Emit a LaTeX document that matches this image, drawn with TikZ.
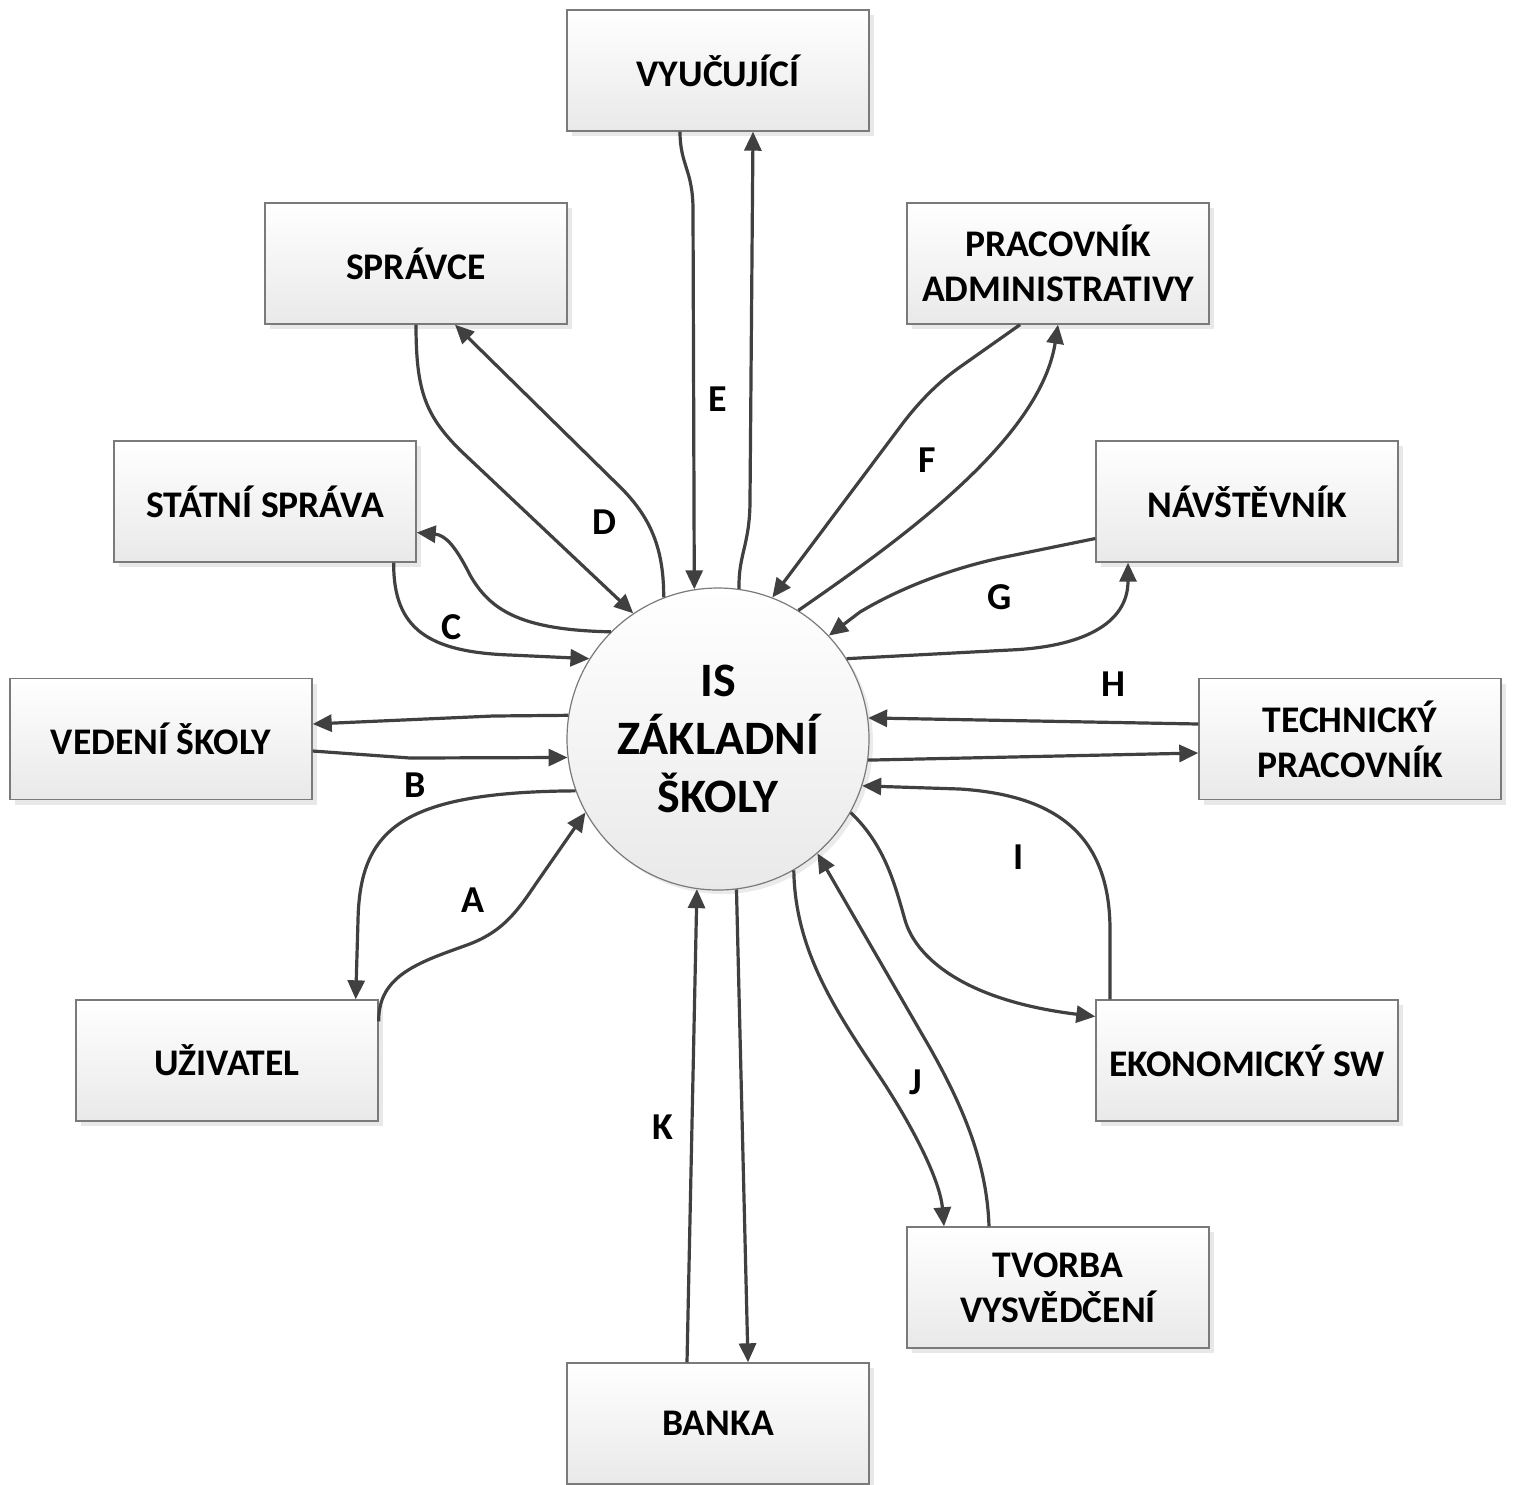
\documentclass[tikz,border=0pt]{standalone}
\usepackage{fontspec}
\setmainfont{Carlito}
\usetikzlibrary{arrows.meta,shadows}
\definecolor{wire}{HTML}{404040}
\definecolor{rim}{HTML}{7A7A7A}
\definecolor{lowfill}{HTML}{E9E9E9}
\begin{document}
\begin{tikzpicture}[x=0.5pt,y=-0.5pt,
  entity/.style={rectangle, draw=rim, line width=0.7pt, top color=white, bottom color=lowfill,
    minimum width=151pt, minimum height=60.5pt, inner sep=1pt, align=center,
    font=\fontsize{18.8}{22.5}\selectfont\bfseries,
    drop shadow={shadow xshift=2.5pt, shadow yshift=-2.5pt, fill=black, opacity=0.09}},
  core/.style={circle, draw=rim, line width=0.6pt, top color=white, bottom color=lowfill,
    minimum size=151pt, inner sep=0pt, align=center,
    font=\fontsize{24}{29}\selectfont\bfseries,
    drop shadow={shadow xshift=2pt, shadow yshift=-2pt, fill=black, opacity=0.08}},
  flow/.style={draw=wire, line width=1.6pt, line join=round, -{Triangle[length=9.5pt,width=8.5pt]}},
  tag/.style={inner sep=0pt, font=\fontsize{19}{22}\selectfont\bfseries}
]
\fill[white] (0,0) rectangle (1513,1484);
\useasboundingbox (0,0) rectangle (1513,1484);

% central process
\node[core] (is) at (718,739) {IS\\ZÁKLADNÍ\\ŠKOLY};

% external entities
\node[entity] (vyu) at (718,70.5)    {VYUČUJÍCÍ};
\node[entity] (spr) at (416,263.5)   {SPRÁVCE};
\node[entity] (pra) at (1058,263.5)  {PRACOVNÍK\\ADMINISTRATIVY};
\node[entity] (sta) at (265,501.5)   {STÁTNÍ SPRÁVA};
\node[entity] (nav) at (1247,501.5)  {NÁVŠTĚVNÍK};
\node[entity] (ved) at (161,739)     {VEDENÍ ŠKOLY};
\node[entity] (tec) at (1350,739)    {TECHNICKÝ\\PRACOVNÍK};
\node[entity] (uzi) at (227,1060.5)  {UŽIVATEL};
\node[entity] (eko) at (1247,1060.5) {EKONOMICKÝ SW};
\node[entity] (tvo) at (1058,1287.5) {TVORBA\\VYSVĚDČENÍ};
\node[entity] (ban) at (718,1423.5)  {BANKA};

% E
\draw[flow] ([xshift=-19pt]vyu.south) .. controls (680,165) and (693,170) .. (693,210) -- (is.99.4);
\draw[flow] (is.82.5) .. controls (738,555) and (750,545) .. (750,500) -- ([xshift=17.5pt]vyu.south);
% D
\draw[flow] (spr.south) .. controls (416,390) and (425,415) .. (460,450) -- (is.124.1);
\draw[flow] (is.111.7) .. controls (664,540) and (645,510) .. (613,480) -- ([xshift=19.5pt]spr.south);
% C
\draw[flow] ([xshift=-11.5pt]sta.south east) .. controls (393,630) and (430,652) .. (510,655) -- (is.148);
\draw[flow] (is.135.5) .. controls (520,630) and (490,610) .. (470,575) .. controls (455,545) and (445,535) .. ([yshift=-15.5pt]sta.east);
% B
\draw[flow] (is.171.3) -- (493,716) -- ([yshift=7.5pt]ved.east);
\draw[flow] ([yshift=-6pt]ved.east) -- (410,758) -- (is.187.6);
% A
\draw[flow] (is.200.3) .. controls (400,792) and (360,830) .. (358,920) -- ([xshift=-11.5pt]uzi.north east);
\draw[flow] ([yshift=-11pt]uzi.north east) .. controls (378,975) and (420,962) .. (467,945) .. controls (500,933) and (515,915) .. (535,885) -- (is.209.1);
% K
\draw[flow] ([xshift=-15.5pt]ban.north) -- (is.262.1);
\draw[flow] (is.277.6) -- ([xshift=15pt]ban.north);
% J
\draw[flow] (is.300.4) .. controls (795,950) and (835,1010) .. (880,1077) .. controls (913,1127) and (940,1180) .. ([xshift=-57pt]tvo.north);
\draw[flow] ([xshift=-34.5pt]tvo.north) .. controls (987,1165) and (965,1110) .. (930,1048) -- (is.311.1);
% I
\draw[flow] ([xshift=-68.5pt]eko.north) -- (1110,930) .. controls (1110,830) and (1050,795) .. (960,789) -- (is.342);
\draw[flow] (is.331.1) .. controls (885,845) and (895,885) .. (905,920) .. controls (915,955) and (960,1000) .. ([yshift=22pt]eko.west);
% H
\draw[flow] ([yshift=7.5pt]tec.west) -- (is.8.7);
\draw[flow] (is.352.8) -- ([yshift=-7pt]tec.west);
% G
\draw[flow] ([yshift=-18.5pt]nav.west) -- (1000,558) .. controls (950,569) and (900,588) .. (860,612) -- (is.43.9);
\draw[flow] (is.32.5) -- (1010,650) .. controls (1080,647) and (1128,625) .. ([xshift=-59.5pt]nav.south);
% F
\draw[flow] ([xshift=-19pt]pra.south) -- (960,367) .. controls (940,381) and (920,400) .. (900,427) -- (is.69.2);
\draw[flow] (is.58.2) .. controls (900,540) and (1040,440) .. (pra.south);

% flow labels
\node[tag] (lA) at (473,900)  {A};
\node[tag] (lB) at (415,785)  {B};
\node[tag] (lC) at (452,627)  {C};
\node[tag] (lD) at (604,522)  {D};
\node[tag] (lE) at (718,399)  {E};
\node[tag] (lF) at (927,460)  {F};
\node[tag] (lG) at (1000,597) {G};
\node[tag] (lH) at (1113,684) {H};
\node[tag] (lI) at (1019,857) {I};
\node[tag] (lJ) at (916,1082) {J};
\node[tag] (lK) at (663,1127) {K};
\end{tikzpicture}
\end{document}
